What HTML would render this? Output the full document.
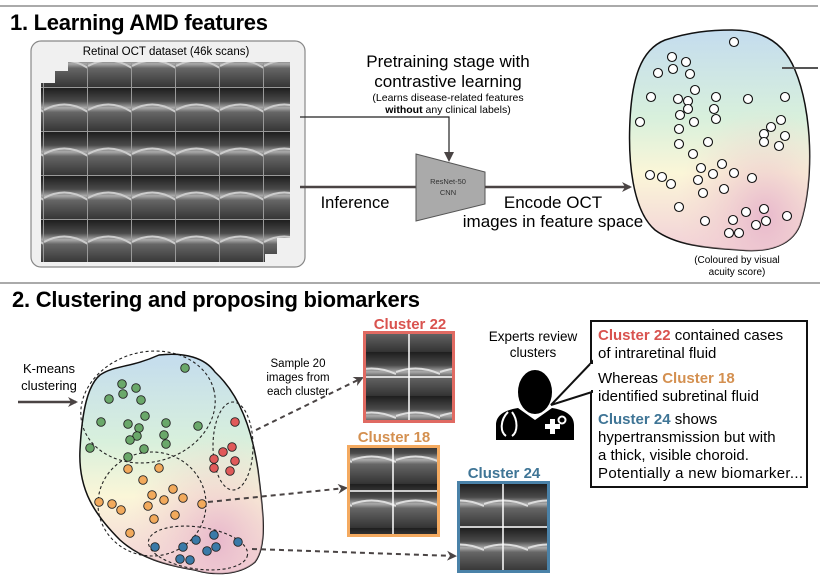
<!DOCTYPE html>
<html><head><meta charset="utf-8"><style>
body{margin:0;background:#fff}
svg{display:block;font-family:"Liberation Sans",sans-serif}
</style></head><body>
<svg width="822" height="581" viewBox="0 0 822 581" xmlns="http://www.w3.org/2000/svg">
<defs>
<linearGradient id="oct" x1="0" y1="0" x2="0" y2="1">
<stop offset="0" stop-color="#1e1e1e"/><stop offset="0.3" stop-color="#4a4a4a"/><stop offset="0.45" stop-color="#aaa"/><stop offset="0.55" stop-color="#666"/><stop offset="1" stop-color="#333"/>
</linearGradient>
<pattern id="tile" width="44" height="44" patternUnits="userSpaceOnUse">
<rect width="44" height="44" fill="url(#oct)"/><path d="M0 22 Q22 10 44 24" stroke="#ccc" stroke-width="2" fill="none"/>
<rect x="43" width="1" height="44" fill="#999"/><rect y="43" width="44" height="1" fill="#999"/>
</pattern>
<pattern id="ct" width="44" height="44" patternUnits="userSpaceOnUse">
<rect width="44" height="44" fill="url(#oct)"/><path d="M0 20 Q22 12 44 22" stroke="#ddd" stroke-width="2" fill="none"/>
</pattern>
<radialGradient id="g2" cx="0.75" cy="0.85" r="0.5"><stop offset="0" stop-color="#e8b8cc"/><stop offset="1" stop-color="#f4d8d0" stop-opacity="0"/></radialGradient>
<linearGradient id="gb" x1="0" y1="0" x2="0" y2="1"><stop offset="0" stop-color="#c4dcee"/><stop offset="0.4" stop-color="#d8f0dc"/><stop offset="0.65" stop-color="#fbf6d8"/><stop offset="1" stop-color="#f2d0d8"/></linearGradient>
<marker id="ah" markerWidth="10" markerHeight="10" refX="8" refY="5" orient="auto" markerUnits="userSpaceOnUse"><path d="M0 0 L10 5 L0 10 Z" fill="#4a4444"/></marker>
<marker id="ah2" markerWidth="10" markerHeight="10" refX="8" refY="5" orient="auto" markerUnits="userSpaceOnUse"><path d="M0 0 L10 5 L0 10 L3 5 Z" fill="#4a4444"/></marker>
</defs>
<line x1="0" y1="6" x2="818" y2="6" stroke="#aaa" stroke-width="2"/>
<line x1="0" y1="283" x2="820" y2="283" stroke="#aaa" stroke-width="2"/>
<text x="10" y="30" font-size="22" font-weight="bold" textLength="258">1. Learning AMD features</text>
<rect x="31" y="41" width="274" height="226" rx="10" fill="#f0f0f0" stroke="#888" stroke-width="1.2"/>
<text x="166" y="55" font-size="11.5" text-anchor="middle">Retinal OCT dataset (46k scans)</text>
<rect x="68" y="62" width="222" height="176" fill="url(#tile)"/>
<rect x="55" y="71" width="222" height="183" fill="url(#tile)"/>
<rect x="41" y="83" width="224" height="179" fill="url(#tile)"/>
<text x="448" y="67" font-size="17" text-anchor="middle">Pretraining stage with</text>
<text x="448" y="87" font-size="17" text-anchor="middle">contrastive learning</text>
<text x="448" y="101" font-size="10.5" text-anchor="middle">(Learns disease-related features</text>
<text x="448" y="113" font-size="10.5" text-anchor="middle"><tspan font-weight="bold">without</tspan> any clinical labels)</text>
<polyline points="300,117 449,117 449,160" fill="none" stroke="#222" stroke-width="1.2" marker-end="url(#ah)"/>
<line x1="300" y1="187" x2="416" y2="187" stroke="#4a4444" stroke-width="2.5"/>
<polygon points="416,154 485,172 485,204 416,221" fill="#aaa" stroke="#555"/>
<text x="448" y="184" font-size="7.5" text-anchor="middle" fill="#333">ResNet-50</text>
<text x="448" y="195" font-size="7.5" text-anchor="middle" fill="#333">CNN</text>
<line x1="485" y1="187" x2="630" y2="187" stroke="#4a4444" stroke-width="2.5" marker-end="url(#ah2)"/>
<text x="355" y="208" font-size="16.5" text-anchor="middle">Inference</text>
<text x="553" y="208" font-size="17" text-anchor="middle">Encode OCT</text>
<text x="553" y="227" font-size="17" text-anchor="middle">images in feature space</text>
<path d="M732 30 C765 30 785 45 795 70 C812 110 815 180 800 225 C790 250 760 252 740 250 C705 248 675 245 655 230 C632 210 628 160 630 120 C632 80 640 50 665 40 C690 32 710 30 732 30 Z" fill="url(#gb)" stroke="#111" stroke-width="1.5"/>
<path d="M732 30 C765 30 785 45 795 70 C812 110 815 180 800 225 C790 250 760 252 740 250 C705 248 675 245 655 230 C632 210 628 160 630 120 C632 80 640 50 665 40 C690 32 710 30 732 30 Z" fill="url(#g2)"/>
<line x1="782" y1="68" x2="818" y2="68" stroke="#555" stroke-width="2"/>
<g fill="#fff" stroke="#111" stroke-width="1.1">
<circle cx="734" cy="42" r="4.5"/><circle cx="672" cy="57" r="4.5"/><circle cx="686" cy="62" r="4.5"/><circle cx="673" cy="69" r="4.5"/><circle cx="658" cy="73" r="4.5"/><circle cx="690" cy="74" r="4.5"/><circle cx="695" cy="90" r="4.5"/><circle cx="651" cy="97" r="4.5"/><circle cx="678" cy="99" r="4.5"/><circle cx="688" cy="101" r="4.5"/><circle cx="716" cy="97" r="4.5"/><circle cx="748" cy="99" r="4.5"/><circle cx="785" cy="97" r="4.5"/><circle cx="688" cy="109" r="4.5"/><circle cx="714" cy="109" r="4.5"/><circle cx="680" cy="115" r="4.5"/><circle cx="716" cy="119" r="4.5"/><circle cx="694" cy="122" r="4.5"/><circle cx="640" cy="122" r="4.5"/><circle cx="781" cy="120" r="4.5"/><circle cx="771" cy="127" r="4.5"/><circle cx="679" cy="129" r="4.5"/><circle cx="764" cy="134" r="4.5"/><circle cx="785" cy="136" r="4.5"/><circle cx="764" cy="142" r="4.5"/><circle cx="779" cy="146" r="4.5"/><circle cx="708" cy="142" r="4.5"/><circle cx="679" cy="144" r="4.5"/><circle cx="693" cy="154" r="4.5"/><circle cx="722" cy="164" r="4.5"/><circle cx="701" cy="168" r="4.5"/><circle cx="734" cy="173" r="4.5"/><circle cx="713" cy="174" r="4.5"/><circle cx="650" cy="175" r="4.5"/><circle cx="662" cy="177" r="4.5"/><circle cx="752" cy="178" r="4.5"/><circle cx="698" cy="180" r="4.5"/><circle cx="671" cy="184" r="4.5"/><circle cx="724" cy="189" r="4.5"/><circle cx="703" cy="193" r="4.5"/><circle cx="679" cy="207" r="4.5"/><circle cx="764" cy="209" r="4.5"/><circle cx="746" cy="212" r="4.5"/><circle cx="787" cy="216" r="4.5"/><circle cx="705" cy="221" r="4.5"/><circle cx="733" cy="220" r="4.5"/><circle cx="766" cy="221" r="4.5"/><circle cx="756" cy="225" r="4.5"/><circle cx="729" cy="233" r="4.5"/><circle cx="739" cy="233" r="4.5"/>
</g>
<text x="737" y="263" font-size="10" text-anchor="middle">(Coloured by visual</text>
<text x="737" y="275" font-size="10" text-anchor="middle">acuity score)</text>

<text x="12" y="307" font-size="22" font-weight="bold" textLength="408">2. Clustering and proposing biomarkers</text>
<text x="49" y="373" font-size="13" text-anchor="middle">K-means</text>
<text x="49" y="390" font-size="13" text-anchor="middle">clustering</text>
<line x1="18" y1="402" x2="76" y2="402" stroke="#4a4444" stroke-width="2.5" marker-end="url(#ah2)"/>
<path d="M159 355 C185 352 205 358 215 372 C240 395 252 430 258 470 C263 510 268 545 255 562 C240 575 215 576 195 570 C165 565 140 558 120 540 C95 515 78 490 80 450 C82 410 88 385 100 375 C115 365 130 368 159 355 Z" fill="url(#gb)" stroke="#111" stroke-width="1.5"/>
<path d="M159 355 C185 352 205 358 215 372 C240 395 252 430 258 470 C263 510 268 545 255 562 C240 575 215 576 195 570 C165 565 140 558 120 540 C95 515 78 490 80 450 C82 410 88 385 100 375 C115 365 130 368 159 355 Z" fill="url(#g2)"/>
<g fill="none" stroke="#222" stroke-width="1.1" stroke-dasharray="3,2.5">
<ellipse cx="148" cy="407" rx="68" ry="55" transform="rotate(-15 148 407)"/>
<ellipse cx="233" cy="446" rx="20" ry="44"/>
<ellipse cx="152" cy="504" rx="54" ry="52"/>
<ellipse cx="198" cy="548" rx="50" ry="21" transform="rotate(8 198 548)"/>
</g>
<g stroke="#222" stroke-width="0.9">
<g fill="#6aa86a"><circle cx="185" cy="368" r="4.3"/><circle cx="122" cy="384" r="4.3"/><circle cx="136" cy="388" r="4.3"/><circle cx="123" cy="394" r="4.3"/><circle cx="109" cy="399" r="4.3"/><circle cx="141" cy="400" r="4.3"/><circle cx="101" cy="422" r="4.3"/><circle cx="128" cy="424" r="4.3"/><circle cx="145" cy="416" r="4.3"/><circle cx="139" cy="428" r="4.3"/><circle cx="166" cy="423" r="4.3"/><circle cx="198" cy="426" r="4.3"/><circle cx="164" cy="435" r="4.3"/><circle cx="137" cy="436" r="4.3"/><circle cx="130" cy="440" r="4.3"/><circle cx="166" cy="444" r="4.3"/><circle cx="144" cy="449" r="4.3"/><circle cx="90" cy="448" r="4.3"/><circle cx="128" cy="457" r="4.3"/></g>
<g fill="#e05a5a"><circle cx="235" cy="422" r="4.3"/><circle cx="232" cy="447" r="4.3"/><circle cx="223" cy="452" r="4.3"/><circle cx="214" cy="459" r="4.3"/><circle cx="235" cy="461" r="4.3"/><circle cx="214" cy="468" r="4.3"/><circle cx="230" cy="471" r="4.3"/></g>
<g fill="#f2aa5c"><circle cx="128" cy="469" r="4.3"/><circle cx="159" cy="468" r="4.3"/><circle cx="143" cy="480" r="4.3"/><circle cx="173" cy="489" r="4.3"/><circle cx="152" cy="495" r="4.3"/><circle cx="183" cy="498" r="4.3"/><circle cx="164" cy="500" r="4.3"/><circle cx="99" cy="502" r="4.3"/><circle cx="112" cy="504" r="4.3"/><circle cx="148" cy="506" r="4.3"/><circle cx="202" cy="504" r="4.3"/><circle cx="121" cy="510" r="4.3"/><circle cx="175" cy="515" r="4.3"/><circle cx="154" cy="519" r="4.3"/><circle cx="130" cy="533" r="4.3"/></g>
<g fill="#3a7aa8"><circle cx="214" cy="535" r="4.3"/><circle cx="196" cy="540" r="4.3"/><circle cx="155" cy="547" r="4.3"/><circle cx="183" cy="547" r="4.3"/><circle cx="216" cy="547" r="4.3"/><circle cx="207" cy="551" r="4.3"/><circle cx="238" cy="542" r="4.3"/><circle cx="180" cy="559" r="4.3"/><circle cx="190" cy="560" r="4.3"/></g>
</g>
<text x="298" y="367" font-size="11.5" text-anchor="middle">Sample 20</text>
<text x="298" y="381" font-size="11.5" text-anchor="middle">images from</text>
<text x="298" y="395" font-size="11.5" text-anchor="middle">each cluster</text>
<g stroke="#4a4444" stroke-width="2" stroke-dasharray="5,4" fill="none">
<line x1="256" y1="430" x2="362" y2="378" marker-end="url(#ah2)"/>
<line x1="208" y1="502" x2="346" y2="488" marker-end="url(#ah2)"/>
<line x1="252" y1="549" x2="455" y2="556" marker-end="url(#ah2)"/>
</g>
<text x="410" y="329" font-size="15" font-weight="bold" text-anchor="middle" fill="#d9534f">Cluster 22</text>
<rect x="364.5" y="332.5" width="89" height="89" fill="url(#ct)" stroke="#e06a62" stroke-width="3"/>
<line x1="409" y1="334" x2="409" y2="420" stroke="#fff" stroke-width="1.5"/><line x1="366" y1="377" x2="452" y2="377" stroke="#fff" stroke-width="1.5"/>
<text x="394" y="442" font-size="15" font-weight="bold" text-anchor="middle" fill="#d49050">Cluster 18</text>
<rect x="348.5" y="446.5" width="90" height="89" fill="url(#ct)" stroke="#f4aa60" stroke-width="3"/>
<line x1="393" y1="448" x2="393" y2="534" stroke="#fff" stroke-width="1.5"/><line x1="350" y1="491" x2="437" y2="491" stroke="#fff" stroke-width="1.5"/>
<text x="504" y="478" font-size="15" font-weight="bold" text-anchor="middle" fill="#3f7596">Cluster 24</text>
<rect x="458.5" y="482.5" width="90" height="89" fill="url(#ct)" stroke="#4a82a8" stroke-width="3"/>
<line x1="503" y1="484" x2="503" y2="570" stroke="#fff" stroke-width="1.5"/><line x1="460" y1="527" x2="547" y2="527" stroke="#fff" stroke-width="1.5"/>
<text x="533" y="341" font-size="13.5" text-anchor="middle">Experts review</text>
<text x="533" y="357" font-size="13.5" text-anchor="middle">clusters</text>
<ellipse cx="535" cy="392" rx="17" ry="22" fill="#000"/>
<path d="M496 440 L496 425 C496 415 505 410 518 408 L535 420 L552 408 C565 410 574 415 574 425 L574 440 Z" fill="#000"/>
<path d="M508 412 C500 420 500 432 506 436 M512 412 C518 420 518 432 512 436" stroke="#fff" stroke-width="2" fill="none"/>
<circle cx="562" cy="420" r="3.5" fill="none" stroke="#fff" stroke-width="2"/>
<path d="M545 424 h5 v-5 h5 v5 h5 v5 h-5 v5 h-5 v-5 h-5 Z" fill="#fff"/>
<rect x="591" y="321" width="216" height="166" fill="#fff" stroke="#111" stroke-width="2"/>
<polygon points="592,362 551,405 592,392" fill="#fff" stroke="#111" stroke-width="2" stroke-linejoin="miter"/>
<line x1="592" y1="364" x2="592" y2="390" stroke="#fff" stroke-width="3"/>
<g font-size="15">
<text x="598" y="340"><tspan fill="#d9534f" font-weight="bold">Cluster 22</tspan> contained cases</text>
<text x="598" y="358">of intraretinal fluid</text>
<text x="598" y="383">Whereas <tspan fill="#d49050" font-weight="bold">Cluster 18</tspan></text>
<text x="598" y="401">identified subretinal fluid</text>
<text x="598" y="424"><tspan fill="#3f7596" font-weight="bold">Cluster 24</tspan> shows</text>
<text x="598" y="442">hypertransmission but with</text>
<text x="598" y="460">a thick, visible choroid.</text>
<text x="598" y="478" textLength="205">Potentially a new biomarker...</text>
</g>
</svg>
</body></html>
